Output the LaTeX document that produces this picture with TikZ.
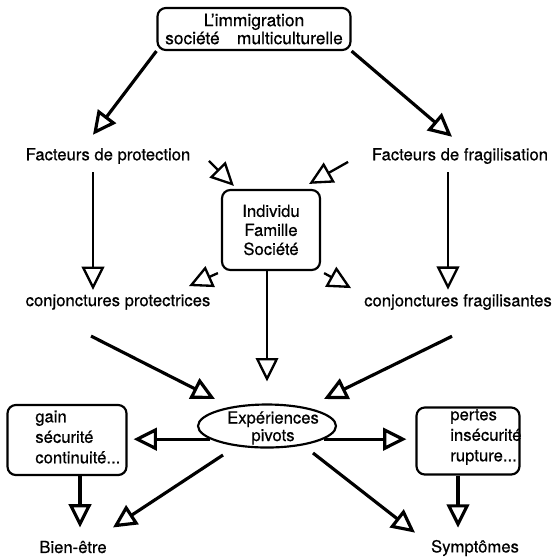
\documentclass[tikz,border=0pt]{standalone}
\usepackage{fontspec}
\setmainfont{TeX Gyre Heros}[FakeBold=0.6]
\usetikzlibrary{arrows.meta, shapes.geometric, calc}

\begin{document}
\begin{tikzpicture}[
            x=0.6pt, y=-0.6pt,
            font=\fontsize{10}{12}\selectfont,
            box/.style={draw, rounded corners=5pt, line width=1.3pt, inner sep=0pt},
            txt/.style={inner sep=0pt},
            arr/.style={-{Triangle[open, length=14pt, width=13.5pt]}, line width=1.9pt},
            thinarr/.style={arr, line width=1.4pt}
        ]
        \useasboundingbox (0,0) rectangle (557,556);

        % Top node
        \node[box, minimum width=115.8pt, minimum height=25.2pt, align=center, font=\fontsize{10.4}{10.8}\selectfont] (imm) at (254,29) {L'immigration\\société\quad multiculturelle};

        % Factors
        \node[txt] (fprot) at (108,156) {Facteurs de protection};
        \node[txt] (ffrag) at (460,156) {Facteurs de fragilisation};

        % Middle node
        \node[box, minimum width=58.8pt, minimum height=48pt, align=center, font=\fontsize{10}{11.4}\selectfont] (ind) at (271,230) {Individu\\Famille\\Société};

        % Conjunctures
        \node[txt] (cprot) at (118,302) {conjonctures protectrices};
        \node[txt] (cfrag) at (458,302) {conjonctures fragilisantes};

        % Pivot node
        \node[ellipse, draw, line width=1.3pt, minimum width=82.8pt, minimum height=25.8pt, inner sep=0pt] (exp) at (267,426) {};
        \node[txt, align=center, font=\fontsize{10}{10.5}\selectfont] (exptxt) at (273,428) {Expériences\\pivots};

        % Side boxes
        \node[box, minimum width=71.4pt, minimum height=42pt] (gain) at (67,440) {};
        \node[txt, align=left, anchor=west, font=\fontsize{10}{12.3}\selectfont] (gaintxt) at (35,437) {gain\\sécurité\\continuité...};
        \node[box, minimum width=61.8pt, minimum height=40.2pt] (pertes) at (468,441) {};
        \node[txt, align=left, anchor=west, font=\fontsize{10}{12.3}\selectfont] (pertestxt) at (450,437) {pertes\\insécurité\\rupture...};

        % Outcomes
        \node[txt] (bien) at (73,547) {Bien-être};
        \node[txt] (sympt) at (475,548) {Symptômes};

        % Edges
        \draw[arr] (imm.south west) -- ($(fprot.north)+(-15,-13)$);
        \draw[arr] (imm.south east) -- ($(ffrag.north)+(-8,-11)$);
        \draw[thinarr] ($(fprot.south)+(-15,8)$) -- ($(cprot.north)+(-25,-4)$);
        \draw[thinarr] ($(ffrag.south)+(-12,8)$) -- ($(cfrag.north)+(-10,-4)$);
        \draw[thinarr] ($(ind.north west)+(-12,-28)$) -- ($(ind.north west)+(13,-3)$);
        \draw[thinarr] ($(ind.north east)+(27,-27)$) -- ($(ind.north east)+(-12,-5)$);
        \draw[thinarr] ($(ind.south west)+(-3,2)$) -- ($(ind.south west)+(-32,15)$);
        \draw[thinarr] ($(ind.south east)+(3,2)$) -- ($(ind.south east)+(30,17)$);
        \draw[thinarr] (ind.south -| exp.north) -- ($(exp.north)+(0,-22)$);
        \draw[arr] ($(cprot.south)+(-27,26)$) -- ($(exp.center)+(-52,-27)$);
        \draw[arr] ($(cfrag.south)+(-6,26)$) -- ($(exp.center)+(57,-27)$);
        \draw[arr, shorten >=3.6pt] (exp.193) -- (exp.193 -| gain.east);
        \draw[arr, shorten >=5.4pt] (exp.347) -- (exp.347 -| pertes.west);
        \draw[arr] ($(exp.center)+(-44,29)$) -- ($(bien.north)+(40,-13)$);
        \draw[arr] ($(exp.center)+(46,27)$) -- ($(sympt.north)+(-60,-7)$);
        \draw[arr] ($(gain.south)+(13,0)$) -- ($(bien.north)+(7,-13)$);
        \draw[arr] ($(pertes.south)+(-10,0)$) -- ($(sympt.north)+(-17,-12)$);

    \end{tikzpicture}
\end{document}
